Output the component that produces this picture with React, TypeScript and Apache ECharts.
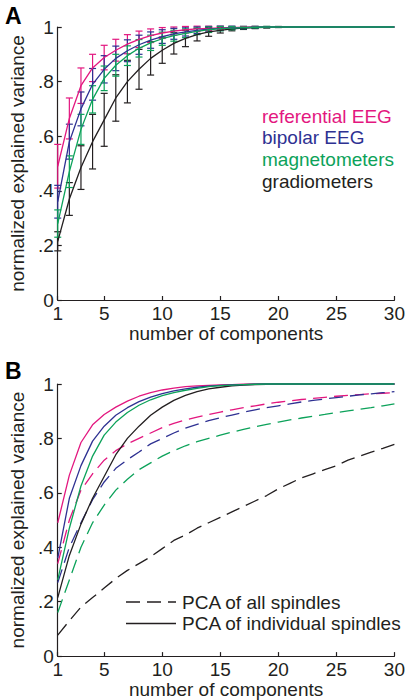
import React, { useEffect, useRef } from "react";
import * as echarts from "echarts";

const components = [1,2,3,4,5,6,7,8,9,10,11,12,13,14,15,16,17,18,19,20,21,22,23,24,25,26,27,28,29,30];
const xTicks = [1, 5, 10, 15, 20, 25, 30];

const seriesNames = ["referential EEG", "bipolar EEG", "magnetometers", "gradiometers"];
const seriesColors = ["#e3177f", "#2e3192", "#0ca25a", "#231f20"];

// individual spindles (means) – panel A lines and panel B solid lines
const refMean = [0.49,0.665,0.785,0.85,0.888,0.915,0.937,0.955,0.968,0.978,0.985,0.99,0.993,0.995,0.997,0.998,0.999,1,1,1,1,1,1,1,1,1,1,1,1,1];
const bipMean = [0.36,0.58,0.70,0.79,0.845,0.885,0.913,0.935,0.952,0.965,0.975,0.982,0.988,0.992,0.995,0.997,0.998,0.999,1,1,1,1,1,1,1,1,1,1,1,1];
const magMean = [0.28,0.47,0.625,0.735,0.812,0.86,0.895,0.922,0.942,0.957,0.968,0.977,0.984,0.99,0.994,0.996,0.998,0.999,1,1,1,1,1,1,1,1,1,1,1,1];
const gradMean = [0.215,0.37,0.485,0.58,0.66,0.74,0.8,0.845,0.885,0.915,0.94,0.958,0.972,0.982,0.988,0.993,0.996,0.998,0.999,1,1,1,1,1,1,1,1,1,1,1];

// error bar half widths (panel A)
const refErr = [0.08,0.075,0.065,0.05,0.045,0.04,0.035,0.03,0.025,0.02,0.015,0.012,0.01,0.008,0.006,0.004,0.003,0.002,0,0,0,0,0,0,0,0,0,0,0,0];
const bipErr = [0.06,0.064,0.062,0.058,0.05,0.045,0.04,0.035,0.03,0.025,0.02,0.015,0.012,0.01,0.008,0.006,0.004,0.003,0,0,0,0,0,0,0,0,0,0,0,0];
const magErr = [0.05,0.058,0.055,0.05,0.045,0.04,0.036,0.032,0.028,0.024,0.02,0.016,0.012,0.01,0.008,0.006,0.004,0.003,0.002,0,0,0,0,0,0,0,0,0,0,0];
const gradErr = [0.035,0.06,0.08,0.1,0.097,0.085,0.078,0.073,0.061,0.048,0.039,0.03,0.023,0.016,0.01,0.007,0.005,0.004,0.003,0.002,0,0,0,0,0,0,0,0,0,0];

// PCA of all spindles – panel B dashed lines
const refAll = [0.34,0.50,0.61,0.67,0.72,0.755,0.78,0.80,0.82,0.84,0.855,0.868,0.878,0.888,0.897,0.905,0.913,0.92,0.927,0.933,0.938,0.943,0.947,0.951,0.955,0.958,0.961,0.964,0.966,0.968];
const bipAll = [0.27,0.40,0.49,0.575,0.64,0.69,0.722,0.75,0.78,0.80,0.82,0.838,0.852,0.865,0.876,0.886,0.896,0.905,0.913,0.92,0.927,0.934,0.94,0.945,0.95,0.955,0.96,0.964,0.968,0.972];
const magAll = [0.16,0.28,0.40,0.49,0.555,0.61,0.65,0.685,0.71,0.735,0.755,0.773,0.788,0.80,0.812,0.823,0.833,0.843,0.852,0.86,0.868,0.875,0.882,0.888,0.895,0.901,0.907,0.913,0.92,0.927];
const gradAll = [0.077,0.13,0.18,0.215,0.25,0.285,0.315,0.34,0.365,0.395,0.425,0.445,0.47,0.49,0.51,0.53,0.55,0.57,0.59,0.615,0.635,0.655,0.67,0.685,0.70,0.72,0.735,0.75,0.763,0.778];

const legendB = ["PCA of all spindles", "PCA of individual spindles"];

const FONT = "Liberation Sans, Arial, Helvetica, sans-serif";

const means = [refMean, bipMean, magMean, gradMean];
const errs = [refErr, bipErr, magErr, gradErr];
const alls = [refAll, bipAll, magAll, gradAll];
const drawOrder = [3, 0, 1, 2];

function pairs(vals: number[]) {
  return components.map((c, i) => [c, vals[i]]);
}

function yFmt(v: number) {
  if (Math.abs(v) < 1e-9) return "0";
  if (Math.abs(v - 1) < 1e-9) return "1";
  return v.toFixed(1).replace(/^0/, "");
}

function makeAxes(gi: number) {
  const x = {
    gridIndex: gi,
    type: "value",
    min: 1,
    max: 30,
    name: "number of components",
    nameLocation: "middle",
    nameGap: 22,
    nameTextStyle: { fontSize: 19, color: "#231f20", fontFamily: FONT },
    axisLine: { show: true, lineStyle: { color: "#231f20", width: 1.2 } },
    axisTick: { show: true, inside: true, length: 4, customValues: xTicks, lineStyle: { color: "#231f20", width: 1.2 } },
    axisLabel: { customValues: xTicks, fontSize: 19, color: "#231f20", fontFamily: FONT, margin: 4 },
    splitLine: { show: false },
  };
  const y = {
    gridIndex: gi,
    type: "value",
    min: 0,
    max: 1,
    interval: 0.2,
    name: "normalized explained variance",
    nameLocation: "middle",
    nameGap: 21,
    nameTextStyle: { fontSize: 19, color: "#231f20", fontFamily: FONT },
    axisLine: { show: true, lineStyle: { color: "#231f20", width: 1.2 } },
    axisTick: { show: true, inside: true, length: 4, lineStyle: { color: "#231f20", width: 1.2 } },
    axisLabel: { fontSize: 19, color: "#231f20", fontFamily: FONT, margin: 4, formatter: yFmt },
    splitLine: { show: false },
  };
  return { x, y };
}

export default function App() {
  const ref = useRef<HTMLDivElement>(null);
  useEffect(() => {
    if (!ref.current) return;
    const chart = echarts.init(ref.current, undefined, { renderer: "svg" });
    const a = makeAxes(0);
    const b = makeAxes(1);
    const series: any[] = [];

    drawOrder.forEach((k) => {
      const color = seriesColors[k];
      // panel A error bars
      const ebData = components
        .map((c, i) => [c, means[k][i] - errs[k][i], means[k][i] + errs[k][i], errs[k][i]])
        .filter((d) => d[3] > 0);
      series.push({
        type: "custom",
        name: seriesNames[k] + " sd",
        xAxisIndex: 0,
        yAxisIndex: 0,
        clip: false,
        data: ebData,
        encode: { x: 0, y: [1, 2] },
        renderItem: (_p: any, api: any) => {
          const xv = api.value(0);
          const top = api.coord([xv, api.value(2)]);
          const bot = api.coord([xv, api.value(1)]);
          const cw = 3.5;
          const st = { stroke: color, lineWidth: 1.2, fill: "none" };
          return {
            type: "group",
            children: [
              { type: "line", shape: { x1: top[0], y1: top[1], x2: bot[0], y2: bot[1] }, style: st },
              { type: "line", shape: { x1: top[0] - cw, y1: top[1], x2: top[0] + cw, y2: top[1] }, style: st },
              { type: "line", shape: { x1: bot[0] - cw, y1: bot[1], x2: bot[0] + cw, y2: bot[1] }, style: st },
            ],
          };
        },
      });
      series.push({
        type: "line",
        name: seriesNames[k],
        xAxisIndex: 0,
        yAxisIndex: 0,
        data: pairs(means[k]),
        symbol: "none",
        lineStyle: { color, width: 1.3 },
        clip: false,
      });
    });

    drawOrder.forEach((k) => {
      const color = seriesColors[k];
      series.push({
        type: "line",
        name: seriesNames[k] + " all",
        xAxisIndex: 1,
        yAxisIndex: 1,
        data: pairs(alls[k]),
        symbol: "none",
        lineStyle: { color, width: 1.3, type: [14, 7] },
      });
    });
    drawOrder.forEach((k) => {
      const color = seriesColors[k];
      series.push({
        type: "line",
        name: seriesNames[k] + " individual",
        xAxisIndex: 1,
        yAxisIndex: 1,
        data: pairs(means[k]),
        symbol: "none",
        lineStyle: { color, width: 1.3 },
        clip: false,
      });
    });

    const graphic: any[] = [
      { type: "text", left: 5, top: 4, style: { text: "A", fontSize: 23, fontWeight: "bold", fill: "#000", fontFamily: FONT } },
      { type: "text", left: 5, top: 359, style: { text: "B", fontSize: 23, fontWeight: "bold", fill: "#000", fontFamily: FONT } },
    ];
    seriesNames.forEach((n, i) => {
      graphic.push({
        type: "text",
        x: 262,
        y: 116 + i * 21.7,
        style: { text: n, fontSize: 19, fill: seriesColors[i], fontFamily: FONT, verticalAlign: "middle" },
      });
    });
    legendB.forEach((n, i) => {
      const yy = 602 + i * 21.5;
      graphic.push({
        type: "line",
        shape: { x1: 126, y1: yy, x2: 176, y2: yy },
        style: { stroke: "#231f20", lineWidth: 1.3, lineDash: i === 0 ? [14, 7] : null },
      });
      graphic.push({
        type: "text",
        x: 182,
        y: yy,
        style: { text: n, fontSize: 19, fill: "#231f20", fontFamily: FONT, verticalAlign: "middle" },
      });
    });

    chart.setOption({
      animation: false,
      backgroundColor: "#fff",
      grid: [
        { left: 39, top: 27, width: 358, height: 273 },
        { left: 39, top: 384, width: 358, height: 273 },
      ],
      xAxis: [a.x, b.x],
      yAxis: [a.y, b.y],
      series,
      graphic,
    });
    return () => chart.dispose();
  }, []);
  return <div ref={ref} style={{ position: "absolute", left: 0, top: 0, width: 408, height: 700 }} />;
}
